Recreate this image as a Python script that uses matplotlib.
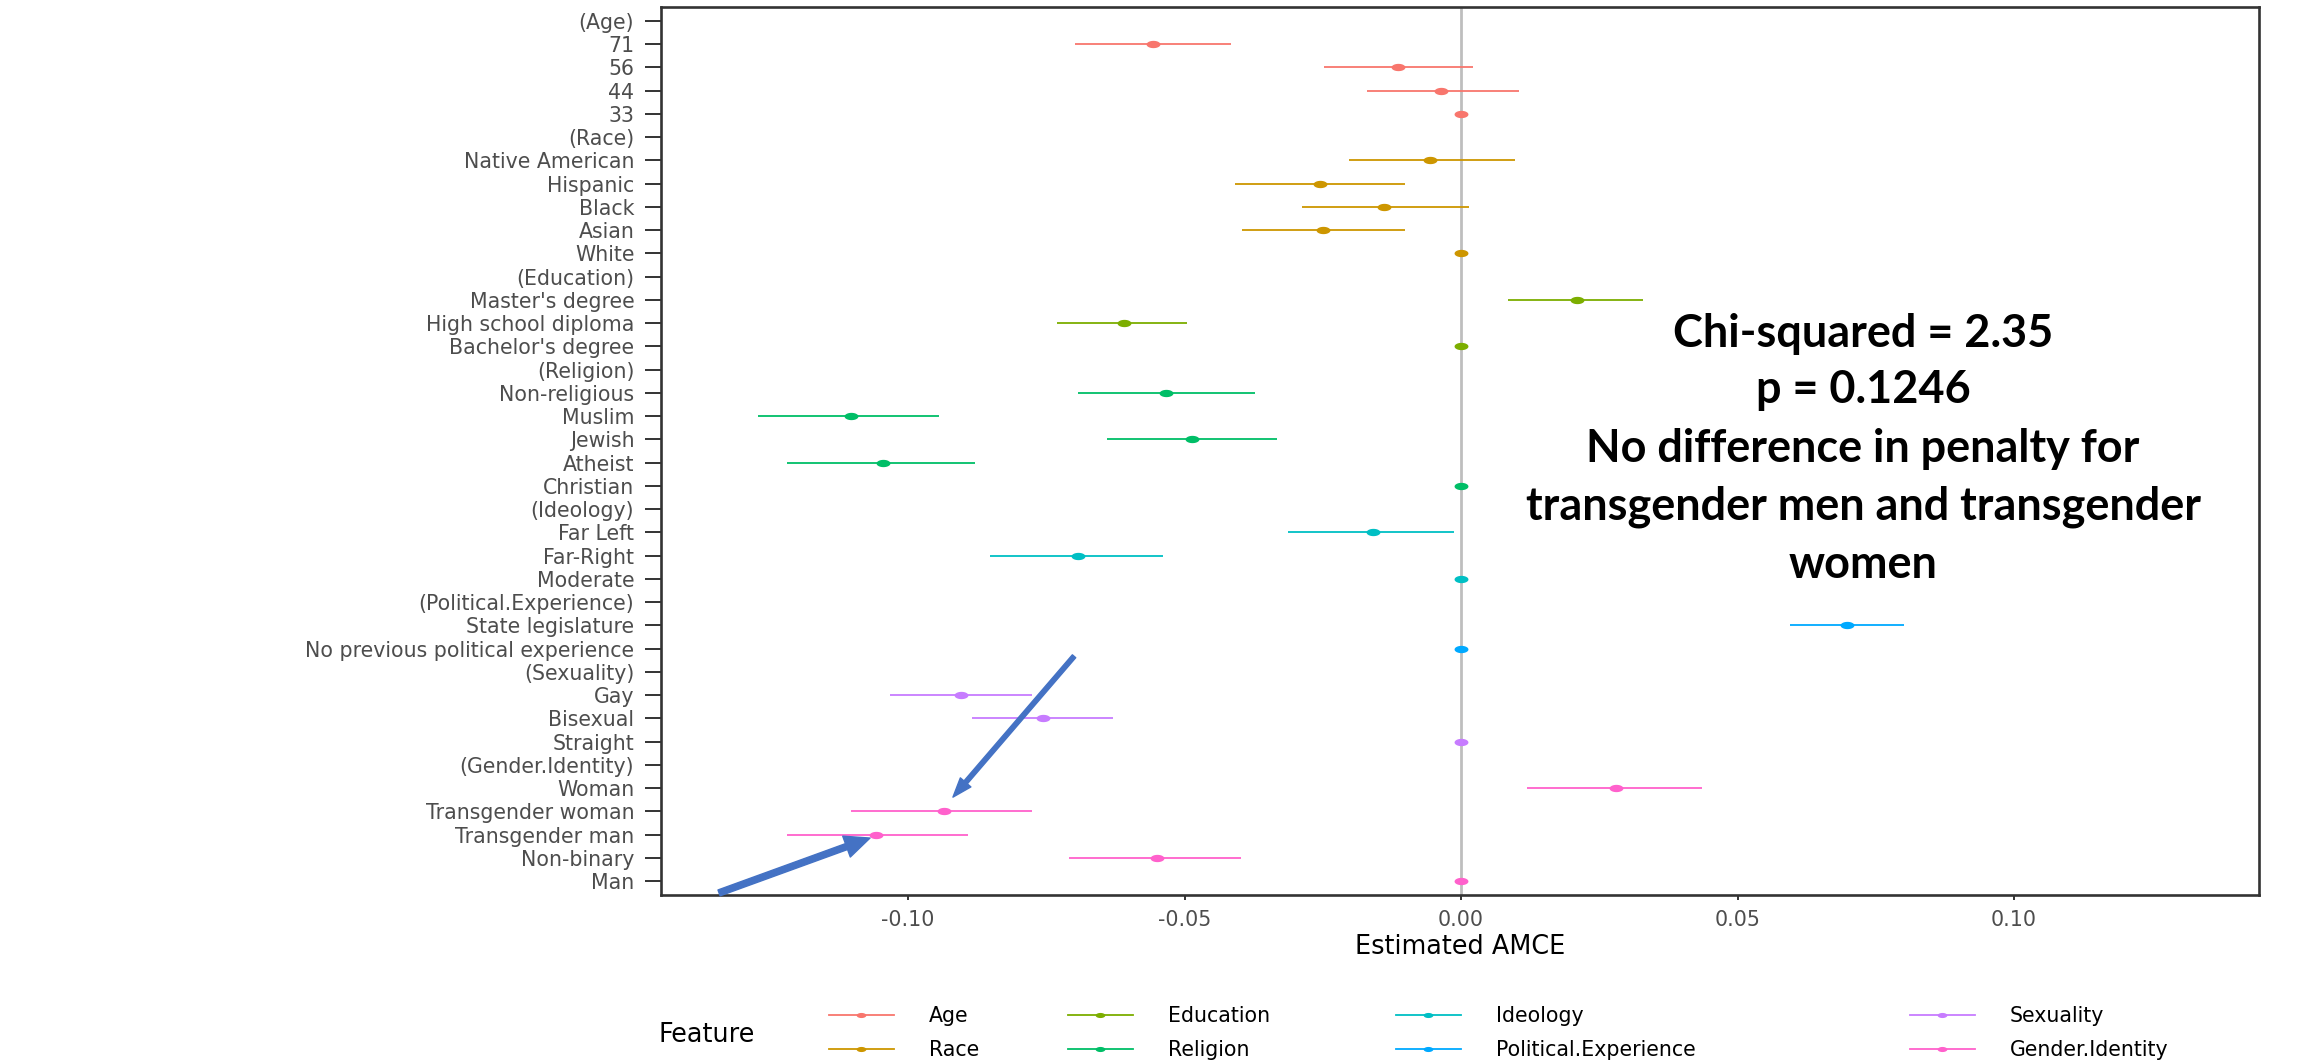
import numpy as np
import matplotlib
matplotlib.use("Agg")
import matplotlib.pyplot as plt
from matplotlib.lines import Line2D

plt.rcParams['font.family'] = ['DejaVu Sans']

# ---------------- data ----------------
features = ['Age', 'Race', 'Education', 'Religion', 'Ideology',
            'Political.Experience', 'Sexuality', 'Gender.Identity']
feature_colors = ['#F8766D', '#CD9600', '#7CAE00', '#00BE67',
                  '#00BFC4', '#00A9FF', '#C77CFF', '#FF61CC']

row_labels = ['(Age)', '71', '56', '44', '33',
              '(Race)', 'Native American', 'Hispanic', 'Black', 'Asian', 'White',
              '(Education)', "Master's degree", 'High school diploma', "Bachelor's degree",
              '(Religion)', 'Non-religious', 'Muslim', 'Jewish', 'Atheist', 'Christian',
              '(Ideology)', 'Far Left', 'Far-Right', 'Moderate',
              '(Political.Experience)', 'State legislature', 'No previous political experience',
              '(Sexuality)', 'Gay', 'Bisexual', 'Straight',
              '(Gender.Identity)', 'Woman', 'Transgender woman', 'Transgender man',
              'Non-binary', 'Man']
row_feature = ['Age'] * 5 + ['Race'] * 6 + ['Education'] * 4 + ['Religion'] * 6 + \
              ['Ideology'] * 4 + ['Political.Experience'] * 3 + ['Sexuality'] * 4 + \
              ['Gender.Identity'] * 6
estimate = [None, -0.0557, -0.0114, -0.0036, 0.0,
            None, -0.0057, -0.0255, -0.0140, -0.0249, 0.0,
            None, 0.0210, -0.0609, 0.0,
            None, -0.0533, -0.1104, -0.0487, -0.1046, 0.0,
            None, -0.0159, -0.0693, 0.0,
            None, 0.0698, 0.0,
            None, -0.0904, -0.0757, 0.0,
            None, 0.0280, -0.0936, -0.1059, -0.0550, 0.0]
ci_low = [None, -0.0699, -0.0248, -0.0171, 0.0,
          None, -0.0203, -0.0409, -0.0287, -0.0396, 0.0,
          None, 0.0085, -0.0730, 0.0,
          None, -0.0692, -0.1271, -0.0640, -0.1220, 0.0,
          None, -0.0313, -0.0852, 0.0,
          None, 0.0595, 0.0,
          None, -0.1032, -0.0885, 0.0,
          None, 0.0119, -0.1103, -0.1220, -0.0710, 0.0]
ci_high = [None, -0.0417, 0.0021, 0.0104, 0.0,
           None, 0.0098, -0.0101, 0.0014, -0.0101, 0.0,
           None, 0.0329, -0.0495, 0.0,
           None, -0.0373, -0.0945, -0.0333, -0.0880, 0.0,
           None, -0.0013, -0.0539, 0.0,
           None, 0.0801, 0.0,
           None, -0.0776, -0.0629, 0.0,
           None, 0.0436, -0.0776, -0.0891, -0.0398, 0.0]

x_ticks = [-0.10, -0.05, 0.00, 0.05, 0.10]
x_tick_labels = ['-0.10', '-0.05', '0.00', '0.05', '0.10']

note_lines = ['Chi-squared = 2.35', 'p = 0.1246', 'No difference in penalty for',
              'transgender men and transgender', 'women']

# ---------------- figure ----------------
W, H = 2318, 1062
fig = plt.figure(figsize=(W / 100, H / 100), dpi=100)
fig.patch.set_facecolor('white')
ax = fig.add_axes([661 / W, 1 - 895 / H, (2259 - 661) / W, (895 - 7) / H])

# horizontally stretched point marker (as in the reference)
t = np.linspace(0, 2 * np.pi, 41)
ell = np.column_stack([1.9 * np.cos(t), np.sin(t)])

n = len(row_labels)
ypos = np.arange(n)[::-1]

ax.axvline(0, color='#BEBEBE', lw=2.0, zorder=1)

for feat, col in zip(features, feature_colors):
    idx = [i for i in range(n) if row_feature[i] == feat and estimate[i] is not None]
    e = np.array([estimate[i] for i in idx])
    lo = np.array([ci_low[i] for i in idx])
    hi = np.array([ci_high[i] for i in idx])
    yy = ypos[idx]
    ax.errorbar(e, yy, xerr=[e - lo, hi - e], fmt='none', ecolor=col,
                elinewidth=1.3, capsize=0, zorder=2)
    ax.plot(e, yy, linestyle='none', marker=ell, ms=10, color=col,
            markeredgewidth=0, zorder=3)

ax.set_yticks(ypos)
ax.set_yticklabels(row_labels)
ax.set_ylim(-0.6, n - 1 + 0.6)
ax.set_xlim(-0.1447, 0.1443)
ax.set_xticks(x_ticks)
ax.set_xticklabels(x_tick_labels)

ax.tick_params(axis='y', length=11.2, width=1.4, color='#333333', pad=8,
               labelsize=14.8, labelcolor='#4D4D4D')
ax.tick_params(axis='x', length=3.6, width=1.4, color='#333333', pad=7,
               labelsize=14.8, labelcolor='#4D4D4D')
for s in ax.spines.values():
    s.set_color('#333333')
    s.set_linewidth(1.9)

ax.set_xlabel('Estimated AMCE', fontsize=18.4, color='black')
ax.xaxis.set_label_coords(0.5, -0.044)

# arrows pointing at transgender woman / transgender man estimates
ax.annotate('', xy=(-0.0919, 3.61), xytext=(-0.0700, 9.67),
            arrowprops=dict(facecolor='#4472C4', edgecolor='#4472C4', width=3.2,
                            headwidth=10, headlength=14, shrink=0),
            annotation_clip=False, zorder=5)
ax.annotate('', xy=(-0.1069, 1.85), xytext=(-0.1342, -0.51),
            arrowprops=dict(facecolor='#4472C4', edgecolor='#4472C4', width=4.5,
                            headwidth=16, headlength=18, shrink=0),
            annotation_clip=False, zorder=5)

# annotation text
baselines = [347, 403, 462, 519, 578]
for line, yb in zip(note_lines, baselines):
    fig.text(1863 / W, 1 - yb / H, line, ha='center', va='baseline',
             fontsize=32.4, fontweight='bold', family=['Lato', 'DejaVu Sans'],
             color='black')

# legend: 4 columns of 2 entries
col_groups = [features[0:2], features[2:4], features[4:6], features[6:8]]
col_x = [829, 1068, 1396, 1910]
for grp, x0 in zip(col_groups, col_x):
    handles = [Line2D([], [], color=feature_colors[features.index(f)], lw=1.3,
                      marker=ell, ms=7, markeredgewidth=0) for f in grp]
    fig.legend(handles, grp, loc='center left',
               bbox_to_anchor=(x0 / W, 1 - 1033 / H), bbox_transform=fig.transFigure,
               frameon=False, borderpad=0, borderaxespad=0, handlelength=3.16,
               handletextpad=1.7, labelspacing=0.7, fontsize=14.8, numpoints=1)
fig.text(707 / W, 1 - 1035 / H, 'Feature', ha='center', va='center',
         fontsize=18.4, color='black')

fig.savefig('out.png', dpi=100)
